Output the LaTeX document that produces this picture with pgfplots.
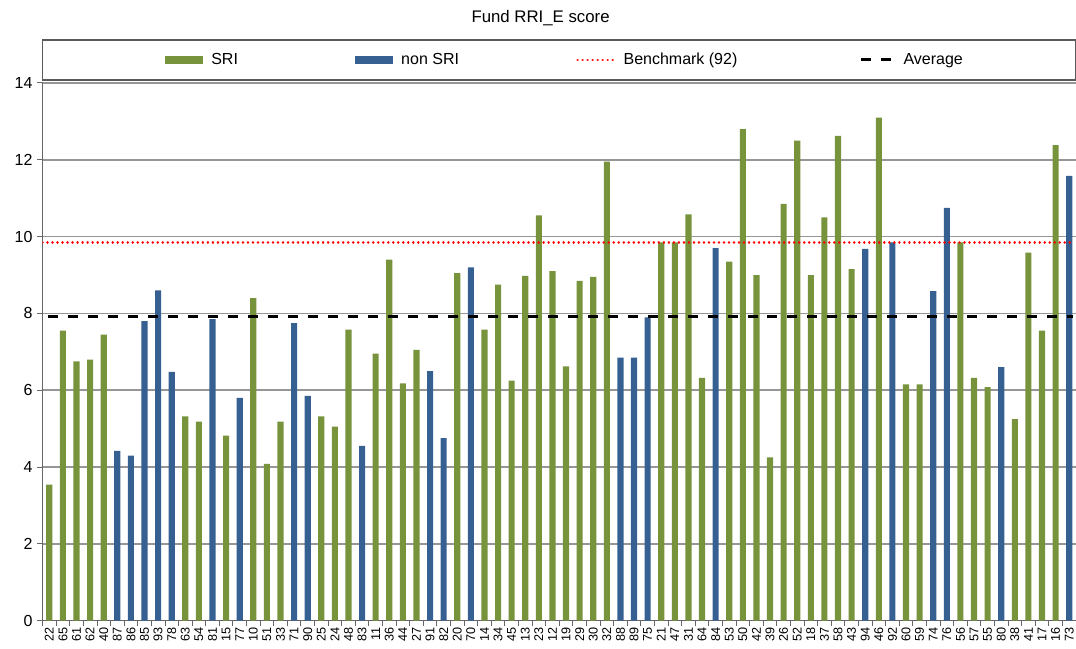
\documentclass[border=0pt]{standalone}
\usepackage{pgfplots}
\pgfplotsset{compat=1.18}
\usepackage{pgfplotstable}
\usepackage{fontspec}
\setmainfont{Liberation Sans}
\definecolor{sri}{RGB}{119,147,60}
\definecolor{nonsri}{RGB}{55,96,146}
\definecolor{gridc}{RGB}{150,150,150}

\pgfplotstableread{
x y
0 3.54
1 7.55
2 6.75
3 6.80
4 7.45
10 5.32
11 5.18
13 4.82
15 8.40
16 4.08
17 5.18
20 5.32
21 5.05
22 7.58
24 6.95
25 9.40
26 6.18
27 7.05
30 9.05
32 7.58
33 8.75
34 6.25
35 8.98
36 10.55
37 9.10
38 6.62
39 8.85
40 8.95
41 11.95
45 9.85
46 9.85
47 10.58
48 6.32
50 9.35
51 12.80
52 9.00
53 4.25
54 10.85
55 12.50
56 9.00
57 10.50
58 12.62
59 9.15
61 13.10
63 6.15
64 6.15
67 9.85
68 6.32
69 6.08
71 5.25
72 9.58
73 7.55
74 12.38
}\sritab

\pgfplotstableread{
x y
5 4.42
6 4.30
7 7.80
8 8.60
9 6.48
12 7.85
14 5.80
18 7.75
19 5.85
23 4.55
28 6.50
29 4.75
31 9.20
42 6.85
43 6.85
44 7.90
49 9.70
60 9.68
62 9.85
65 8.58
66 10.75
70 6.60
75 11.58
}\nonsritab

\begin{document}
\begin{tikzpicture}
\begin{axis}[
  name=a,
  scale only axis,
  width=775.5pt, height=403.5pt,
  xmin=-0.5, xmax=75.5, ymin=0, ymax=14,
  axis x line*=bottom, axis y line*=left,
  axis line style={black!60, line width=0.9pt},
  ytick={0,2,...,14},
  ymajorgrids,
  major grid style={gridc, line width=1.1pt},
  xtick={0,...,75},
  xticklabels={22,65,61,62,40,87,86,85,93,78,63,54,81,15,77,10,51,33,71,90,25,24,48,83,11,36,44,27,91,82,20,70,14,34,45,13,23,12,19,29,30,32,88,89,75,21,47,31,64,84,53,50,42,39,26,52,18,37,58,43,94,46,92,60,59,74,76,56,57,55,80,38,41,17,16,73},
  x tick label style={rotate=90, anchor=east, font=\fontsize{9.5}{10}\selectfont, inner sep=1pt},
  y tick label style={font=\fontsize{12}{14}\selectfont},
  /pgf/number format/assume math mode=true,
  major x tick style={draw=none},
  minor xtick={-0.5,0.5,...,75.5},
  minor x tick style={black!60, line width=0.6pt},
  minor tick length=4pt,
  major tick length=4pt,
  ytick style={black!60, line width=0.8pt},
  tick align=outside,
  legend columns=4,
  legend style={draw=none, fill=none, at={(0.506,1.0427)}, anchor=center,
    font=\fontsize{12}{14}\selectfont,
    /tikz/every odd column/.append style={column sep=4pt},
    /tikz/every even column/.append style={column sep=86pt}},
]
\addplot[ybar, bar shift=0pt, bar width=4.6pt, fill=sri, draw=none,
  legend image code/.code={\fill[sri] (0pt,-3pt) rectangle (28.5pt,3pt);}]
  table[x=x,y=y] {\sritab};
\addlegendentry{SRI}
\addplot[ybar, bar shift=0pt, bar width=4.6pt, fill=nonsri, draw=none,
  legend image code/.code={\fill[nonsri] (0pt,-3pt) rectangle (28.5pt,3pt);}]
  table[x=x,y=y] {\nonsritab};
\addlegendentry{non SRI}
\addplot[red, line width=2pt, line cap=round, dash pattern=on 0.01pt off 3.75pt,
  legend image code/.code={\draw[red, line width=2pt, line cap=round, dash pattern=on 0.01pt off 3.75pt] (1pt,0pt) -- (28.5pt,0pt);}]
  coordinates {(-0.5,9.84) (75.3,9.84)};
\addlegendentry{Benchmark (92)}
\addplot[black, line width=2.25pt, dash pattern=on 7.5pt off 7.5pt, dash phase=-4pt,
  legend image code/.code={\draw[black, line width=2.25pt, dash pattern=on 7.5pt off 7.5pt] (0pt,0pt) -- (28.5pt,0pt);}]
  coordinates {(-0.5,7.92) (75.3,7.92)};
\addlegendentry{Average}
\end{axis}
\draw[black!65, line width=0.9pt] ([yshift=2.25pt]a.north west) rectangle ([yshift=32.25pt]a.north east);
\node[font=\fontsize{12.6}{15}\selectfont] at ([xshift=-14pt,yshift=48.75pt]a.north) {Fund RRI\_E score};
\pgfresetboundingbox
\path[use as bounding box] ([xshift=-31.9pt,yshift=-21pt]a.south west) rectangle ([yshift=62.25pt]a.north east);
\end{tikzpicture}
\end{document}
